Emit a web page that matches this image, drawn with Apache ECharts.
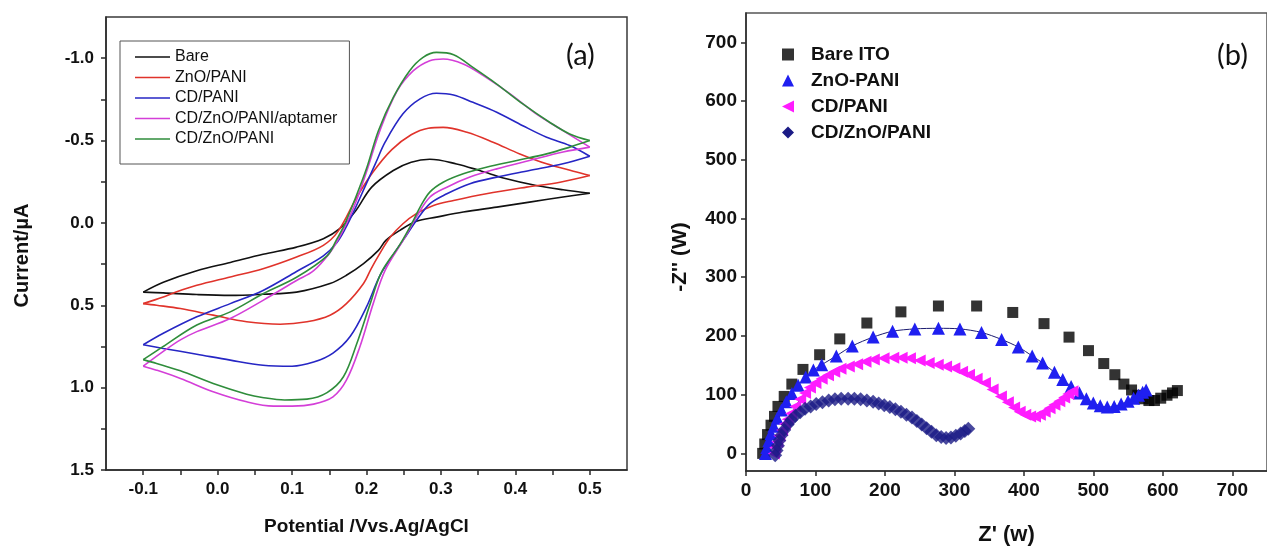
<!DOCTYPE html>
<html>
<head>
<meta charset="utf-8">
<script src="https://cdn.jsdelivr.net/npm/echarts@6/dist/echarts.min.js"></script>
<style>
  html, body { margin: 0; padding: 0; background: #fff; }
  #chart { width: 1267px; height: 551px; }
</style>
</head>
<body>
<div id="chart"></div>
<script>
// ---- (a) cyclic voltammograms: [potential (V vs Ag/AgCl), current (µA)] ----
// each loop is stored as its forward sweep and its reverse sweep
const bareFwd = [[-0.1,0.42],[-0.073,0.36],[-0.028,0.29],[0.017,0.24],[0.061,0.19],[0.106,0.147],[0.142,0.096],[0.164,0.035],[0.185,-0.07],[0.207,-0.217],[0.236,-0.318],[0.26,-0.368],[0.285,-0.386],[0.321,-0.358],[0.352,-0.318],[0.388,-0.268],[0.428,-0.227],[0.464,-0.201],[0.5,-0.18]];
const bareRev = [[0.5,-0.18],[0.464,-0.157],[0.419,-0.126],[0.375,-0.096],[0.33,-0.066],[0.294,-0.035],[0.267,-0.01],[0.245,0.045],[0.226,0.106],[0.216,0.167],[0.196,0.247],[0.173,0.318],[0.151,0.368],[0.106,0.42],[0.061,0.433],[0.017,0.44],[-0.028,0.435],[-0.073,0.425],[-0.1,0.42]];

const znoFwd = [[-0.1,0.49],[-0.073,0.45],[-0.059,0.425],[-0.028,0.379],[0.017,0.328],[0.061,0.278],[0.106,0.207],[0.142,0.136],[0.162,0.05],[0.187,-0.156],[0.209,-0.31],[0.234,-0.445],[0.26,-0.535],[0.283,-0.575],[0.303,-0.58],[0.335,-0.55],[0.37,-0.49],[0.406,-0.419],[0.442,-0.359],[0.478,-0.314],[0.5,-0.288]];
const znoRev = [[0.5,-0.288],[0.46,-0.247],[0.415,-0.217],[0.361,-0.177],[0.317,-0.136],[0.29,-0.106],[0.267,-0.056],[0.249,0.005],[0.232,0.086],[0.216,0.2],[0.206,0.28],[0.196,0.368],[0.173,0.49],[0.151,0.56],[0.12,0.6],[0.084,0.615],[0.039,0.6],[-0.006,0.56],[-0.05,0.52],[-0.082,0.5],[-0.1,0.49]];

const cdFwd = [[-0.1,0.74],[-0.073,0.67],[-0.028,0.57],[0.017,0.49],[0.061,0.41],[0.106,0.295],[0.142,0.2],[0.16,0.12],[0.172,0.03],[0.185,-0.09],[0.198,-0.22],[0.212,-0.36],[0.225,-0.49],[0.249,-0.662],[0.272,-0.753],[0.294,-0.787],[0.317,-0.777],[0.343,-0.732],[0.375,-0.672],[0.41,-0.59],[0.442,-0.52],[0.473,-0.47],[0.5,-0.405]];
const cdRev = [[0.5,-0.405],[0.464,-0.359],[0.419,-0.318],[0.375,-0.278],[0.339,-0.238],[0.308,-0.177],[0.285,-0.116],[0.267,-0.015],[0.25,0.1],[0.235,0.2],[0.218,0.32],[0.2,0.51],[0.178,0.69],[0.155,0.79],[0.129,0.845],[0.1,0.87],[0.061,0.864],[0.017,0.833],[-0.028,0.797],[-0.073,0.762],[-0.1,0.74]];

const aptFwd = [[-0.1,0.87],[-0.073,0.78],[-0.05,0.71],[-0.028,0.66],[0.017,0.58],[0.061,0.47],[0.106,0.35],[0.129,0.29],[0.151,0.18],[0.162,0.1],[0.173,0.005],[0.186,-0.13],[0.2,-0.31],[0.218,-0.56],[0.241,-0.8],[0.263,-0.924],[0.285,-0.985],[0.303,-0.995],[0.33,-0.965],[0.357,-0.894],[0.393,-0.783],[0.428,-0.662],[0.464,-0.56],[0.5,-0.46]];
const aptRev = [[0.5,-0.46],[0.464,-0.43],[0.419,-0.379],[0.375,-0.328],[0.339,-0.278],[0.308,-0.217],[0.285,-0.156],[0.267,-0.035],[0.25,0.1],[0.225,0.288],[0.209,0.49],[0.191,0.753],[0.173,0.955],[0.155,1.056],[0.129,1.1],[0.1,1.112],[0.075,1.112],[0.039,1.086],[-0.006,1.025],[-0.05,0.944],[-0.082,0.894],[-0.1,0.87]];

const cdZnoFwd = [[-0.1,0.83],[-0.073,0.75],[-0.028,0.62],[0.017,0.54],[0.061,0.43],[0.106,0.33],[0.147,0.2],[0.16,0.1],[0.17,0.015],[0.185,-0.15],[0.2,-0.33],[0.216,-0.56],[0.236,-0.762],[0.258,-0.924],[0.276,-1.005],[0.294,-1.035],[0.317,-1.021],[0.343,-0.944],[0.375,-0.843],[0.41,-0.722],[0.446,-0.611],[0.473,-0.54],[0.5,-0.5]];
const cdZnoRev = [[0.5,-0.5],[0.473,-0.46],[0.442,-0.419],[0.402,-0.379],[0.361,-0.338],[0.33,-0.298],[0.303,-0.247],[0.285,-0.187],[0.272,-0.096],[0.263,-0.015],[0.245,0.13],[0.22,0.3],[0.205,0.49],[0.187,0.732],[0.169,0.934],[0.147,1.03],[0.12,1.07],[0.09,1.075],[0.06,1.06],[0.039,1.04],[-0.006,0.975],[-0.05,0.898],[-0.082,0.853],[-0.1,0.83]];

const cvPotentialLabels = [-0.1, 0, 0.1, 0.2, 0.3, 0.4, 0.5];
const cvPotentialTicks = [-0.1, -0.05, 0, 0.05, 0.1, 0.15, 0.2, 0.25, 0.3, 0.35, 0.4, 0.45, 0.5];
const cvCurrentLabels = [-1.0, -0.5, 0, 0.5, 1.0, 1.5];
const cvCurrentTicks = [-1.0, -0.75, -0.5, -0.25, 0, 0.25, 0.5, 0.75, 1.0, 1.25, 1.5];

// ---- (b) Nyquist plots: [Z' (Ω), -Z'' (Ω)] ----
const bareIto = [[24,0],[27,16],[31,32],[36,48],[41,63],[46,80],[55,97],[66,118],[82,143],[106,168],[135,195],[174,222],[223,241],[277,251],[332,251],[384,240],[429,221],[465,198],[493,175],[515,153],[531,134],[544,118],[555,108],[564,99],[572,93],[580,90],[588,90],[597,94],[606,99],[614,103],[621,107]];
const znoPani = [[28,0],[30,10],[33,22],[36,34],[40,46],[45,60],[51,74],[58,88],[66,102],[75,116],[86,130],[97,142],[109,151],[130,166],[153,183],[183,198],[211,208],[243,212],[277,213],[308,212],[339,206],[368,194],[392,181],[412,166],[427,154],[444,138],[456,126],[468,114],[480,103],[490,93],[500,86],[510,81],[520,79],[530,80],[540,84],[550,89],[558,94],[565,99],[571,104],[576,108]];
const cdPani = [[40,0],[42,10],[45,20],[48,30],[52,40],[56,50],[60,58],[65,68],[71,80],[78,92],[85,103],[92,112],[100,120],[109,127],[118,133],[127,139],[136,144],[148,148],[160,152],[172,156],[184,160],[198,162],[212,163],[224,163],[236,162],[250,158],[263,154],[276,151],[288,148],[300,145],[311,139],[321,134],[332,127],[344,120],[355,109],[367,97],[377,87],[386,78],[394,71],[402,66],[409,63],[416,63],[423,66],[430,71],[437,77],[444,83],[451,89],[458,95],[464,101],[470,106]];
const cdZnoPani = [[42,-3],[44,5],[46,13],[48,22],[51,31],[55,40],[60,49],[65,57],[71,64],[78,70],[85,76],[93,80],[101,84],[110,87],[119,90],[128,92],[137,93],[147,93],[156,93],[165,92],[174,90],[183,88],[191,85],[199,82],[207,79],[215,75],[223,71],[231,66],[239,61],[246,55],[253,49],[260,43],[267,37],[274,31],[281,28],[288,26],[295,27],[302,30],[309,34],[315,38],[320,42]];

const impedanceTicks = [0, 100, 200, 300, 400, 500, 600, 700];

const FONT = '"Liberation Sans", Arial, Helvetica, sans-serif';
const AXIS_COLOR = '#2a2a2a';

const cvColors = {
  bare: '#111111',
  zno: '#e0332b',
  cd: '#2626c4',
  apt: '#d43fd8',
  cdZno: '#2f8d3b'
};

function cvSeries(name, data, color) {
  return {
    type: 'line',
    name: name,
    xAxisIndex: 0,
    yAxisIndex: 0,
    data: data,
    symbol: 'none',
    smooth: 0.35,
    lineStyle: { color: color, width: 1.6 },
    itemStyle: { color: color },
    z: 3
  };
}

function tickLabel(size) {
  return { fontFamily: FONT, fontSize: size, fontWeight: 'bold', color: '#111' };
}

const chart = echarts.init(document.getElementById('chart'), null, { renderer: 'canvas' });

const option = {
  backgroundColor: '#ffffff',
  animation: false,
  title: [
    { text: '(a)', left: 566, top: 41, padding: 0,
      textStyle: { fontFamily: 'Lato, "Open Sans", sans-serif', fontSize: 29, fontWeight: 'normal', color: '#111' } },
    { text: '(b)', left: 1217, top: 41, padding: 0,
      textStyle: { fontFamily: 'Lato, "Open Sans", sans-serif', fontSize: 29, fontWeight: 'normal', color: '#111' } }
  ],
  legend: [
    {
      orient: 'vertical',
      left: 120,
      top: 41,
      padding: [8, 12, 17, 15],
      icon: 'rect',
      itemWidth: 35,
      itemHeight: 1.6,
      itemGap: 4.5,
      borderColor: '#555',
      borderWidth: 1,
      textStyle: { fontFamily: FONT, fontSize: 16, color: '#111' },
      data: ['Bare', 'ZnO/PANI', 'CD/PANI', 'CD/ZnO/PANI/aptamer', 'CD/ZnO/PANI']
    },
    {
      orient: 'vertical',
      left: 777,
      top: 40,
      padding: 5,
      itemWidth: 12,
      itemHeight: 12,
      itemGap: 7,
      textStyle: { fontFamily: FONT, fontSize: 19, fontWeight: 'bold', color: '#111', padding: [0, 0, 0, 12] },
      data: [
        { name: 'Bare ITO', icon: 'rect', itemStyle: { color: '#000000' } },
        { name: 'ZnO-PANI', icon: 'triangle', itemStyle: { color: '#1f1ff0' } },
        { name: 'CD/PANI', icon: 'path://M0,5L10,0L10,10Z', itemStyle: { color: '#ff1cff' } },
        { name: 'CD/ZnO/PANI', icon: 'diamond', itemStyle: { color: '#1b1b86' } }
      ]
    }
  ],
  grid: [
    { left: 106, top: 17, width: 521, height: 453, show: true, borderColor: '#3a3a3a', borderWidth: 1.5 },
    { left: 746, top: 13, width: 533, height: 459, show: true, borderColor: '#555', borderWidth: 1.5 }
  ],
  xAxis: [
    {
      type: 'value', gridIndex: 0, min: -0.15, max: 0.55,
      name: 'Potential /Vvs.Ag/AgCl', nameLocation: 'middle', nameGap: 47,
      nameTextStyle: { fontFamily: FONT, fontSize: 19, fontWeight: 'bold', color: '#111' },
      axisLine: { show: true, onZero: false, lineStyle: { color: AXIS_COLOR, width: 1.5 } },
      axisTick: { show: true, length: 5, customValues: cvPotentialTicks, lineStyle: { color: AXIS_COLOR, width: 1.5 } },
      axisLabel: Object.assign({ customValues: cvPotentialLabels, margin: 11, formatter: v => v.toFixed(1) }, tickLabel(17)),
      splitLine: { show: false }
    },
    {
      type: 'value', gridIndex: 1, min: 0, max: 750,
      name: "Z' (w)", nameLocation: 'middle', nameGap: 53,
      nameTextStyle: { fontFamily: FONT, fontSize: 22, fontWeight: 'bold', color: '#111' },
      axisLine: { show: true, onZero: false, lineStyle: { color: AXIS_COLOR, width: 1.5 } },
      axisTick: { show: true, length: 5, customValues: impedanceTicks, lineStyle: { color: AXIS_COLOR, width: 1.5 } },
      axisLabel: Object.assign({ customValues: impedanceTicks, margin: 10 }, tickLabel(19)),
      splitLine: { show: false }
    }
  ],
  yAxis: [
    {
      type: 'value', gridIndex: 0, min: -1.25, max: 1.5, inverse: true,
      name: 'Current/µA', nameLocation: 'middle', nameGap: 74,
      nameTextStyle: { fontFamily: FONT, fontSize: 20, fontWeight: 'bold', color: '#111', padding: [0, 24, 0, 0] },
      axisLine: { show: true, onZero: false, lineStyle: { color: AXIS_COLOR, width: 1.5 } },
      axisTick: { show: true, length: 5, customValues: cvCurrentTicks, lineStyle: { color: AXIS_COLOR, width: 1.5 } },
      axisLabel: Object.assign({ customValues: cvCurrentLabels, margin: 12, formatter: v => v.toFixed(1) }, tickLabel(17)),
      splitLine: { show: false }
    },
    {
      type: 'value', gridIndex: 1, min: -30, max: 750,
      name: "-Z'' (W)", nameLocation: 'middle', nameGap: 55,
      nameTextStyle: { fontFamily: FONT, fontSize: 21, fontWeight: 'bold', color: '#111', padding: [0, 30, 0, 0] },
      axisLine: { show: true, onZero: false, lineStyle: { color: AXIS_COLOR, width: 1.5 } },
      axisTick: { show: true, length: 5, customValues: impedanceTicks, lineStyle: { color: AXIS_COLOR, width: 1.5 } },
      axisLabel: Object.assign({ customValues: impedanceTicks, margin: 9 }, tickLabel(19)),
      splitLine: { show: false }
    }
  ],
  series: [
    cvSeries('Bare', bareFwd, cvColors.bare),
    cvSeries('Bare', bareRev, cvColors.bare),
    cvSeries('ZnO/PANI', znoFwd, cvColors.zno),
    cvSeries('ZnO/PANI', znoRev, cvColors.zno),
    cvSeries('CD/PANI', cdFwd, cvColors.cd),
    cvSeries('CD/PANI', cdRev, cvColors.cd),
    cvSeries('CD/ZnO/PANI/aptamer', aptFwd, cvColors.apt),
    cvSeries('CD/ZnO/PANI/aptamer', aptRev, cvColors.apt),
    cvSeries('CD/ZnO/PANI', cdZnoFwd, cvColors.cdZno),
    cvSeries('CD/ZnO/PANI', cdZnoRev, cvColors.cdZno),
    {
      type: 'scatter', name: 'Bare ITO', xAxisIndex: 1, yAxisIndex: 1,
      data: bareIto, symbol: 'rect', symbolSize: 11,
      itemStyle: { color: '#000000' }, z: 3
    },
    {
      type: 'line', name: 'ZnO-PANI', xAxisIndex: 1, yAxisIndex: 1,
      data: znoPani, symbol: 'triangle', symbolSize: 13, showSymbol: true, showAllSymbol: true,
      smooth: 0.3, lineStyle: { color: '#1b1b70', width: 1 },
      itemStyle: { color: '#1f1ff0' }, z: 4
    },
    {
      type: 'line', name: 'CD/PANI', xAxisIndex: 1, yAxisIndex: 1,
      data: cdPani, symbol: 'triangle', symbolRotate: 90, symbolSize: 12, showSymbol: true, showAllSymbol: true,
      smooth: 0.3, lineStyle: { color: '#8a1a8a', width: 1 },
      itemStyle: { color: '#ff1cff' }, z: 5
    },
    {
      type: 'scatter', name: 'CD/ZnO/PANI', xAxisIndex: 1, yAxisIndex: 1,
      data: cdZnoPani, symbol: 'diamond', symbolSize: 14,
      itemStyle: { color: '#1b1b86' }, z: 6
    }
  ]
};

chart.setOption(option);
</script>
</body>
</html>
